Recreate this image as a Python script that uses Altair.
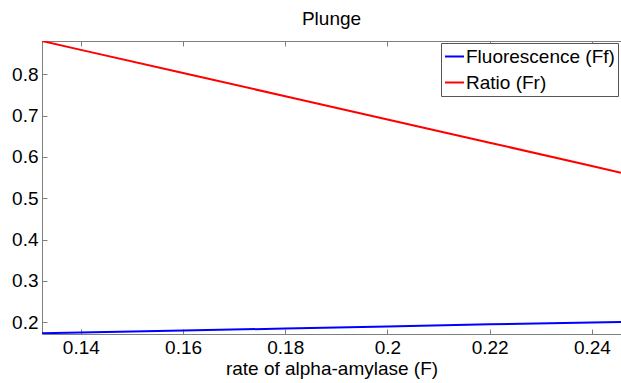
import altair as alt
import pandas as pd

# ---- data ----
x_vals = [0.1324, 0.14, 0.16, 0.18, 0.20, 0.22, 0.24, 0.2457]
ff_vals = [0.1735, 0.1755, 0.1800, 0.1850, 0.1900, 0.1950, 0.1995, 0.2010]
fr_vals = [0.8805, 0.8590, 0.8030, 0.7470, 0.6905, 0.6345, 0.5780, 0.5620]
series_names = ["Fluorescence (Ff)", "Ratio (Fr)"]
series_colors = ["#0000ff", "#ff0000"]
x_ticks = [0.14, 0.16, 0.18, 0.20, 0.22, 0.24]
y_ticks = [0.2, 0.3, 0.4, 0.5, 0.6, 0.7, 0.8]
x_domain = [0.1324, 0.2457]
y_domain = [0.1717, 0.8805]

rows = []
for xv, a, b in zip(x_vals, ff_vals, fr_vals):
    rows.append({"x": xv, "y": a, "series": series_names[0]})
    rows.append({"x": xv, "y": b, "series": series_names[1]})
df = pd.DataFrame(rows)

W, H = 579, 293
FONT = "Liberation Sans"
AX = "#7f7f7f"
FS = 19

txt = dict(labelFont=FONT, labelFontSize=FS, labelColor="black",
           titleFont=FONT, titleFontSize=FS, titleFontWeight="normal",
           titleColor="black", grid=False)

xs = alt.Scale(domain=x_domain, nice=False, zero=False)
ys = alt.Scale(domain=y_domain, nice=False, zero=False)

base = alt.Chart(df)

lines = base.mark_line(strokeWidth=2, clip=True).encode(
    x=alt.X("x:Q", scale=xs, axis=alt.Axis(
        orient="bottom", values=x_ticks, format=".2~f", tickSize=0,
        domainColor=AX, labelPadding=4, title="rate of alpha-amylase (F)",
        titlePadding=2, **txt)),
    y=alt.Y("y:Q", scale=ys, axis=alt.Axis(
        orient="left", values=y_ticks, format=".1f", tickSize=0,
        domainColor=AX, labelPadding=4, title=None, **txt)),
    color=alt.Color("series:N", scale=alt.Scale(domain=series_names, range=series_colors),
                    legend=alt.Legend(title=None, orient="none", legendX=399, legendY=2,
                                      symbolType="stroke", symbolSize=361, symbolStrokeWidth=2,
                                      labelFontSize=FS, labelFont=FONT, labelColor="black",
                                      fillColor="white", strokeColor="#555555", padding=3,
                                      rowPadding=5, labelOffset=1, labelLimit=400)),
    detail="series:N",
)

# inward ticks on bottom and left edges
ticks_in = base.mark_line(opacity=0).encode(
    x=alt.X("x:Q", scale=xs, axis=alt.Axis(
        orient="top", offset=-H, values=x_ticks, labels=False, domain=False,
        tickSize=5, tickColor=AX, title=None, grid=False)),
    y=alt.Y("y:Q", scale=ys, axis=alt.Axis(
        orient="right", offset=-W, values=y_ticks, labels=False, domain=False,
        tickSize=5, tickColor=AX, title=None, grid=False)),
)

# top frame line with inward ticks
top_frame = base.mark_line(opacity=0).encode(
    x=alt.X("x:Q", scale=xs, axis=alt.Axis(
        orient="bottom", offset=-H, values=x_ticks, labels=False, domain=True,
        domainColor=AX, tickSize=5, tickColor=AX, title=None, grid=False)),
    y=alt.Y("y:Q", scale=ys, axis=None),
)

chart = alt.layer(lines, ticks_in, top_frame).resolve_axis(
    x="independent", y="independent"
).properties(
    width=W, height=H,
    title=alt.TitleParams("Plunge", font=FONT, fontSize=FS, fontWeight="normal",
                          color="black", offset=12),
    autosize=alt.AutoSizeParams(type="none"),
    padding={"left": 42, "top": 41, "right": 0, "bottom": 49},
).configure_view(stroke=None).configure(background="white")

chart.save("out.html", embed_options={"renderer": "svg", "actions": False})
